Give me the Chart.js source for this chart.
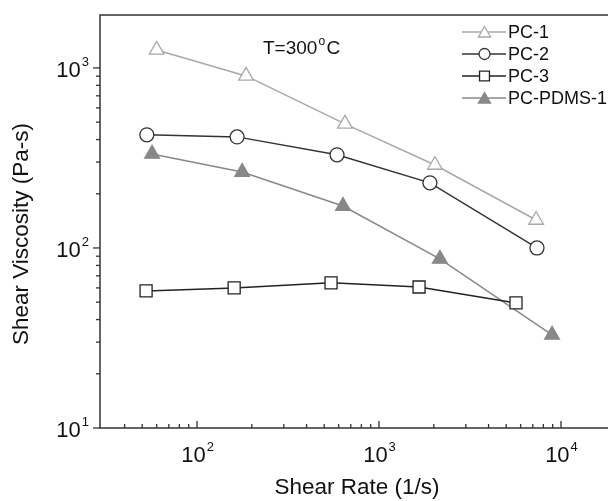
<!DOCTYPE html>
<html>
<head>
<meta charset="utf-8">
<script src="https://cdn.jsdelivr.net/npm/chart.js@4/dist/chart.umd.min.js"></script>
<style>
  body { margin: 0; background: #fff; }
  canvas { display: block; }
</style>
</head>
<body>
<canvas id="viscChart" width="608" height="501"></canvas>
<script>
// データ (読み取り値)
const pc1Rate = [60, 186, 650, 2030, 7300];
const pc1Visc = [1259, 903, 489, 289, 143];
const pc2Rate = [53, 166, 588, 1905, 7380];
const pc2Visc = [425, 414, 329, 230, 100];
const pc3Rate = [52.5, 160, 545, 1660, 5660];
const pc3Visc = [57.7, 60, 64, 60.7, 49.5];
const pdmsRate = [56.6, 177, 634, 2160, 8930];
const pdmsVisc = [333, 264, 171, 86.9, 32.9];

const seriesNames = ['PC-1', 'PC-2', 'PC-3', 'PC-PDMS-1'];
const xDecades = [100, 1000, 10000];
const yDecades = [10, 100, 1000];
const xRange = [29.3, 18130];
const yRange = [10, 1968];

const FONT = '"Liberation Sans", Arial, sans-serif';

function toPoints(xs, ys) {
  return xs.map((x, i) => ({ x: x, y: ys[i] }));
}

let styles = [
  { color: '#a8a8a8', fill: '#ffffff', shape: 'triangle', r: 8.5, lr: 7 },
  { color: '#333333', fill: '#ffffff', shape: 'circle', r: 7, lr: 5.5 },
  { color: '#222222', fill: '#ffffff', shape: 'rect', r: 8.5, lr: 7 },
  { color: '#888888', fill: '#888888', shape: 'triangle', r: 8.5, lr: 7 }
];
let dataSets = [
  toPoints(pc1Rate, pc1Visc),
  toPoints(pc2Rate, pc2Visc),
  toPoints(pc3Rate, pc3Visc),
  toPoints(pdmsRate, pdmsVisc)
];

// 凡例用マーカー
function drawMarker(ctx, st, x, y, r) {
  ctx.save();
  ctx.strokeStyle = st.color;
  ctx.fillStyle = st.fill;
  ctx.lineWidth = 1.3;
  ctx.beginPath();
  if (st.shape === 'triangle') {
    ctx.moveTo(x, y - r);
    ctx.lineTo(x + r * Math.sin(Math.PI * 2 / 3), y + r / 2);
    ctx.lineTo(x - r * Math.sin(Math.PI * 2 / 3), y + r / 2);
    ctx.closePath();
  } else if (st.shape === 'circle') {
    ctx.arc(x, y, r, 0, Math.PI * 2);
  } else {
    let s = r * Math.SQRT1_2;
    ctx.rect(x - s, y - s, 2 * s, 2 * s);
  }
  ctx.fill();
  ctx.stroke();
  ctx.restore();
}

// 10^n 形式のラベル
function powerLabel(ctx, n, x, y, align) {
  ctx.font = '22px ' + FONT;
  let base = '10';
  let bw = ctx.measureText(base).width;
  ctx.font = '13px ' + FONT;
  let ew = ctx.measureText(String(n)).width;
  let left = align === 'center' ? x - (bw + ew) / 2 : x - bw - ew;
  ctx.fillStyle = '#111';
  ctx.textAlign = 'left';
  ctx.textBaseline = 'alphabetic';
  ctx.font = '22px ' + FONT;
  ctx.fillText(base, left, y);
  ctx.font = '13px ' + FONT;
  ctx.fillText(String(n), left + bw + 1, y - 11);
}

const framePlugin = {
  id: 'frame',
  afterDraw(chart) {
    let ctx = chart.ctx;
    let area = chart.chartArea;
    let xs = chart.scales.x;
    let ys = chart.scales.y;
    ctx.save();

    // 軸線
    ctx.strokeStyle = '#333';
    ctx.lineWidth = 1.5;
    ctx.beginPath();
    ctx.moveTo(area.right + 2, area.top);
    ctx.lineTo(area.left, area.top);
    ctx.lineTo(area.left, area.bottom);
    ctx.lineTo(area.right + 2, area.bottom);
    ctx.stroke();

    // x軸の目盛り (内向き)
    ctx.lineWidth = 1.3;
    for (let e = 1; e <= 4; e++) {
      for (let k = 1; k <= 9; k++) {
        let v = k * Math.pow(10, e);
        if (v < xRange[0] || v > xRange[1]) continue;
        let px = xs.getPixelForValue(v);
        if (px <= area.left + 2) continue;
        let len = k === 1 ? 7 : 4;
        ctx.beginPath();
        ctx.moveTo(px, area.bottom);
        ctx.lineTo(px, area.bottom - len);
        ctx.stroke();
      }
    }
    // y軸の目盛り (外向き)
    for (let e = 1; e <= 3; e++) {
      for (let k = 1; k <= 9; k++) {
        let v = k * Math.pow(10, e);
        if (v < yRange[0] || v > yRange[1]) continue;
        let py = ys.getPixelForValue(v);
        let len = k === 1 ? 7 : 4;
        ctx.beginPath();
        ctx.moveTo(area.left, py);
        ctx.lineTo(area.left - len, py);
        ctx.stroke();
      }
    }

    // 目盛りラベル
    xDecades.forEach((v) => {
      powerLabel(ctx, Math.round(Math.log10(v)), xs.getPixelForValue(v), area.bottom + 34, 'center');
    });
    yDecades.forEach((v) => {
      powerLabel(ctx, Math.round(Math.log10(v)), area.left - 12, ys.getPixelForValue(v) + 9, 'right');
    });

    // 軸タイトル
    ctx.fillStyle = '#111';
    ctx.font = '22.5px ' + FONT;
    ctx.textAlign = 'center';
    ctx.textBaseline = 'middle';
    ctx.fillText('Shear Rate (1/s)', 357, 488);
    ctx.save();
    ctx.translate(22, 234);
    ctx.rotate(-Math.PI / 2);
    ctx.fillText('Shear Viscosity (Pa-s)', 0, 0);
    ctx.restore();

    // 温度の注記
    ctx.textAlign = 'left';
    ctx.textBaseline = 'alphabetic';
    ctx.font = '19px ' + FONT;
    ctx.fillText('T=300', 263, 54);
    let tw = ctx.measureText('T=300').width;
    ctx.font = '12px ' + FONT;
    ctx.fillText('o', 263 + tw + 1, 45);
    ctx.font = '19px ' + FONT;
    ctx.fillText('C', 263 + tw + 9, 54);

    // 凡例
    let rowY = [32, 54, 76, 98];
    seriesNames.forEach((name, i) => {
      let st = styles[i];
      ctx.strokeStyle = st.color;
      ctx.lineWidth = 1.5;
      ctx.beginPath();
      ctx.moveTo(462, rowY[i]);
      ctx.lineTo(506, rowY[i]);
      ctx.stroke();
      drawMarker(ctx, st, 484.5, rowY[i] + (st.shape === 'triangle' ? 1.5 : 0), st.lr);
      ctx.fillStyle = '#111';
      ctx.font = '18px ' + FONT;
      ctx.textBaseline = 'middle';
      ctx.fillText(name, 508, rowY[i] + 1);
    });

    ctx.restore();
  }
};

let ctx = document.getElementById('viscChart');
new Chart(ctx, {
  type: 'scatter',
  data: {
    datasets: seriesNames.map((name, i) => ({
      label: name,
      data: dataSets[i],
      showLine: true,
      borderColor: styles[i].color,
      borderWidth: 1.5,
      backgroundColor: styles[i].fill,
      pointStyle: styles[i].shape,
      pointRadius: styles[i].r,
      pointBorderWidth: 1.3,
      pointBorderColor: styles[i].color,
      pointBackgroundColor: styles[i].fill,
      clip: false
    }))
  },
  options: {
    responsive: false,
    animation: false,
    layout: {
      autoPadding: false,
      padding: { left: 100, top: 15, right: 0, bottom: 73 }
    },
    scales: {
      x: { type: 'logarithmic', min: xRange[0], max: xRange[1], display: false },
      y: { type: 'logarithmic', min: yRange[0], max: yRange[1], display: false }
    },
    plugins: {
      legend: { display: false },
      tooltip: { enabled: false }
    }
  },
  plugins: [framePlugin]
});
</script>
</body>
</html>
